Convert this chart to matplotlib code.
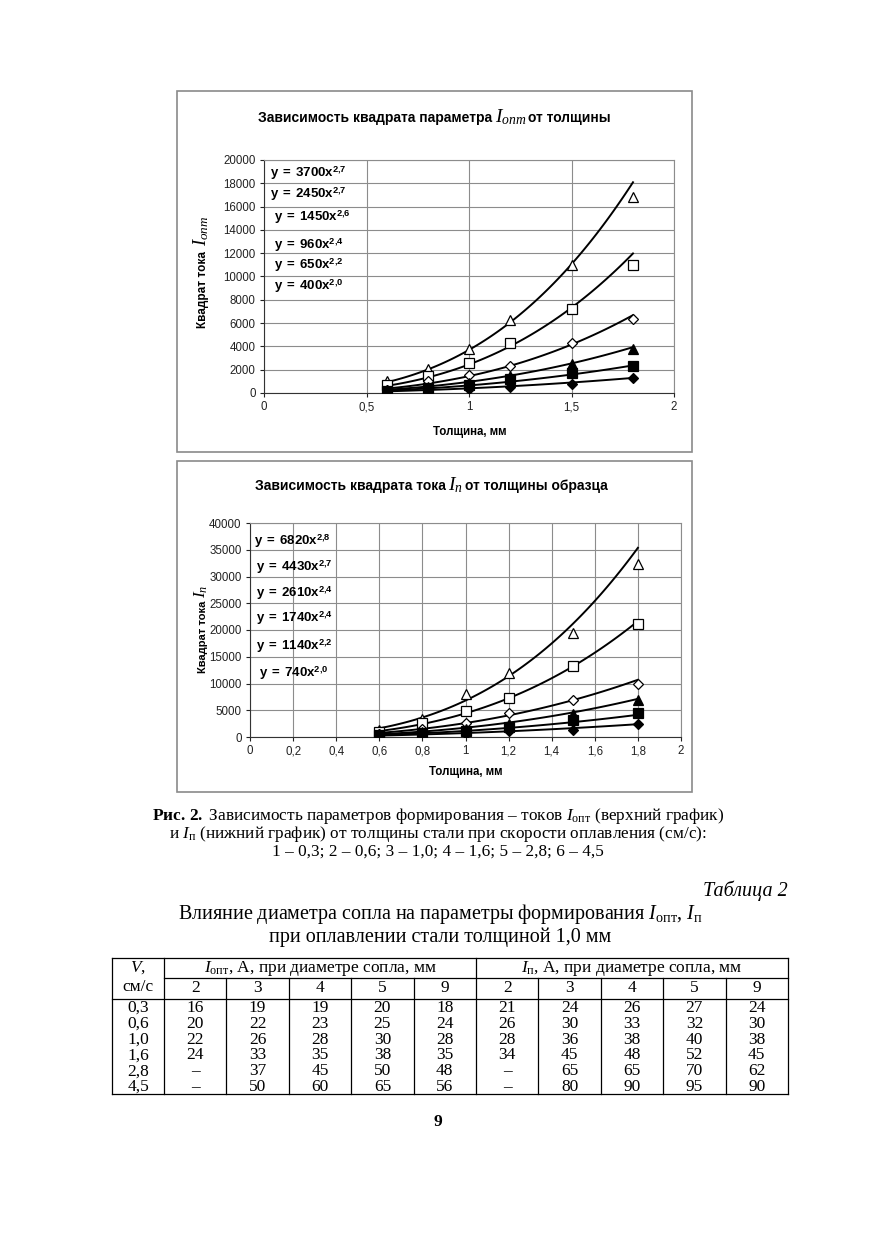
import numpy as np
import matplotlib
matplotlib.use('Agg')
import matplotlib.pyplot as plt
from matplotlib.patches import Rectangle

plt.rcParams.update({
    'font.family': ['Liberation Sans', 'DejaVu Sans'],
    'mathtext.fontset': 'custom',
    'mathtext.rm': 'Liberation Serif',
    'mathtext.it': 'Liberation Serif:italic',
    'mathtext.bf': 'Liberation Serif:bold',
    'mathtext.sf': 'Liberation Sans:bold',
})

# ---------------- data ----------------
thickness = [0.6, 0.8, 1.0, 1.2, 1.5, 1.8]

# upper chart: square of I_opt, series 6..1
opt_s6 = [1000, 2100, 3800, 6300, 11000, 16850]
opt_s5 = [700, 1500, 2550, 4250, 7200, 11000]
opt_s4 = [300, 1000, 1550, 2300, 4300, 6350]
opt_s3 = [250, 550, 850, 1500, 2500, 3800]
opt_s2 = [150, 400, 700, 1200, 1700, 2300]
opt_s1 = [100, 250, 350, 500, 800, 1300]
opt_coef = [3700, 2450, 1450, 960, 650, 400]
opt_pow = [2.7, 2.7, 2.6, 2.4, 2.2, 2.0]
opt_pow_txt = ['2,7', '2,7', '2,6', '2,4', '2,2', '2,0']

# lower chart: square of I_p, series 6..1
p_s6 = [1350, 3450, 7950, 12000, 19400, 32400]
p_s5 = [950, 2600, 4900, 7300, 13250, 21050]
p_s4 = [600, 1550, 2650, 4500, 6900, 9900]
p_s3 = [500, 950, 1550, 2400, 4250, 7000]
p_s2 = [300, 750, 1100, 1850, 3100, 4400]
p_s1 = [200, 500, 650, 1100, 1250, 2500]
p_coef = [6820, 4430, 2610, 1740, 1140, 740]
p_pow = [2.8, 2.7, 2.4, 2.4, 2.2, 2.0]
p_pow_txt = ['2,8', '2,7', '2,4', '2,4', '2,2', '2,0']

# table 2
speeds = ['0,3', '0,6', '1,0', '1,6', '2,8', '4,5']
nozzles = ['2', '3', '4', '5', '9']
tab_opt = [[16, 19, 19, 20, 18], [20, 22, 23, 25, 24], [22, 26, 28, 30, 28],
           [24, 33, 35, 38, 35], [None, 37, 45, 50, 48], [None, 50, 60, 65, 56]]
tab_p = [[21, 24, 26, 27, 24], [26, 30, 33, 32, 30], [28, 36, 38, 40, 38],
         [34, 45, 48, 52, 45], [None, 65, 65, 70, 62], [None, 80, 90, 95, 90]]

markers = [('^', 'white', 7.5), ('s', 'white', 6.5), ('D', 'white', 5.5),
           ('^', 'black', 7.5), ('s', 'black', 6.5), ('D', 'black', 5.5)]

W, H = 875, 1241
fig = plt.figure(figsize=(W / 100, H / 100), dpi=100)
fig.patch.set_facecolor('white')

pg = fig.add_axes([0, 0, 1, 1], zorder=-1)
pg.set_xlim(0, W)
pg.set_ylim(H, 0)
pg.axis('off')

# chart frames
for (x0, y0, x1, y1) in [(177, 91, 692, 452), (177, 461, 692, 792)]:
    pg.add_patch(Rectangle((x0, y0), x1 - x0, y1 - y0, fill=False,
                           edgecolor='#8a8a8a', lw=1.2))


def make_chart(rect_px, series, coefs, pows, pow_txt, xticks, ymax, ystep, eq_pos):
    l, t, r, b = rect_px
    ax = fig.add_axes([l / W, 1 - b / H, (r - l) / W, (b - t) / H])
    ax.set_xlim(0, 2)
    ax.set_ylim(0, ymax)
    ax.set_xticks(xticks)
    ax.set_xticklabels([('%g' % v).replace('.', ',') for v in xticks])
    yt = np.arange(0, ymax + 1, ystep)
    ax.set_yticks(yt)
    ax.set_yticklabels([str(int(v)) for v in yt])
    ax.grid(True, color='#8c8c8c', lw=0.8)
    ax.set_axisbelow(True)
    for s in ['top', 'right']:
        ax.spines[s].set_color('#8c8c8c')
    for s in ['left', 'bottom']:
        ax.spines[s].set_color('#333333')
    ax.tick_params(labelsize=8.3, length=3, width=0.8, pad=3, colors='#222222')
    xx = np.linspace(thickness[0], thickness[-1], 100)
    for ys, a, p, (m, fc, ms) in zip(series, coefs, pows, markers):
        ax.plot(xx, a * xx ** p, color='black', lw=1.4, zorder=3)
        ax.plot(thickness, ys, ls='none', marker=m, mfc=fc, mec='black',
                mew=0.9, ms=ms, zorder=4)
    for (ex, ey), a, pt in zip(eq_pos, coefs, pow_txt):
        ax.text(ex, ey, r'$\mathsf{y\ =\ %dx}^{\mathsf{%s}}$' % (a, pt.replace(',', '{,}')),
                fontsize=9.5, va='center', ha='left', zorder=5)
    return ax


ax1 = make_chart((264, 160, 674, 393),
                 [opt_s6, opt_s5, opt_s4, opt_s3, opt_s2, opt_s1],
                 opt_coef, opt_pow, opt_pow_txt,
                 [0, 0.5, 1, 1.5, 2], 20000, 2000,
                 [(0.03, 18900), (0.03, 17100), (0.05, 15050), (0.05, 12700),
                  (0.05, 11000), (0.05, 9200)])
ax2 = make_chart((250, 523, 681, 737),
                 [p_s6, p_s5, p_s4, p_s3, p_s2, p_s1],
                 p_coef, p_pow, p_pow_txt,
                 [0, 0.2, 0.4, 0.6, 0.8, 1.0, 1.2, 1.4, 1.6, 1.8, 2.0],
                 40000, 5000,
                 [(0.02, 36600), (0.03, 31700), (0.03, 26900), (0.03, 22200),
                  (0.03, 16900), (0.04, 11900)])

# chart titles (pieces so that the current symbol can be larger)
tb = dict(fontsize=10, fontweight='bold', va='baseline')
pg.text(492, 122, 'Зависимость квадрата параметра', ha='right', **tb)
pg.text(495, 122, r'$I_{опт}$', ha='left', fontsize=14, va='baseline')
pg.text(528, 122, 'от толщины', ha='left', **tb)
pg.text(446, 490, 'Зависимость квадрата тока', ha='right', **tb)
pg.text(448, 490, r'$I_{п}$', ha='left', fontsize=14, va='baseline')
pg.text(465, 490, 'от толщины образца', ha='left', **tb)

# axis labels
pg.text(203, 290, 'Квадрат тока', rotation=90, fontsize=8.5, fontweight='bold',
        ha='center', va='center')
pg.text(201, 231, r'$I_{опт}$', rotation=90, fontsize=13.5, ha='center', va='center')
pg.text(203, 637, 'Квадрат тока', rotation=90, fontsize=8, fontweight='bold',
        ha='center', va='center')
pg.text(201, 591, r'$I_{п}$', rotation=90, fontsize=12.5, ha='center', va='center')
pg.text(470, 432, 'Толщина, мм', fontsize=8.3, fontweight='bold', ha='center', va='center')
pg.text(466, 772, 'Толщина, мм', fontsize=8.3, fontweight='bold', ha='center', va='center')

# caption
serif = ['Liberation Serif', 'DejaVu Serif']
pg.text(438, 816, r'$\mathbf{Рис.\,2.}$ Зависимость параметров формирования – токов '
        r'$I_{\mathrm{опт}}$ (верхний график)', family=serif, fontsize=12.4,
        ha='center', va='center')
pg.text(438, 834, r'и $I_{\mathrm{п}}$ (нижний график) от толщины стали при скорости '
        r'оплавления (см/с):', family=serif, fontsize=12.4, ha='center', va='center')
pg.text(438, 852, '1 – 0,3; 2 – 0,6; 3 – 1,0; 4 – 1,6; 5 – 2,8; 6 – 4,5',
        family=serif, fontsize=12.4, ha='center', va='center')

# table title
pg.text(788, 891, 'Таблица 2', family=serif, style='italic', fontsize=14.5,
        ha='right', va='center')
pg.text(440, 914, r'Влияние диаметра сопла на параметры формирования '
        r'$I_{\mathrm{опт}}$, $I_{\mathrm{п}}$', family=serif, fontsize=14.5,
        ha='center', va='center')
pg.text(440, 937, 'при оплавлении стали толщиной 1,0 мм', family=serif,
        fontsize=14.5, ha='center', va='center')

# table grid
tx0, tv, tx1 = 112, 164, 788
ncol = 10
cw = (tx1 - tv) / ncol
y_top, y_h1, y_h2, y_bot = 958, 978, 999, 1094
row_h = (y_bot - y_h2) / len(speeds)
lk = dict(color='black', lw=0.9)
pg.plot([tx0, tx1], [y_top, y_top], **lk)
pg.plot([tv, tx1], [y_h1, y_h1], **lk)
pg.plot([tx0, tx1], [y_h2, y_h2], **lk)
pg.plot([tx0, tx1], [y_bot, y_bot], **lk)
for x in [tx0, tv, tv + 5 * cw, tx1]:
    pg.plot([x, x], [y_top, y_bot], **lk)
for k in range(1, ncol):
    if k == 5:
        continue
    x = tv + k * cw
    pg.plot([x, x], [y_h1, y_bot], **lk)

tk = dict(family=serif, fontsize=12.5, ha='center', va='center')
pg.text((tx0 + tv) / 2, 968, r'$V$,', **tk)
pg.text((tx0 + tv) / 2, 987, 'см/с', **tk)
pg.text(tv + 2.5 * cw, 968, r'$I_{\mathrm{опт}}$, А, при диаметре сопла, мм', **tk)
pg.text(tv + 7.5 * cw, 968, r'$I_{\mathrm{п}}$, А, при диаметре сопла, мм', **tk)
for g in range(2):
    for j, nz in enumerate(nozzles):
        pg.text(tv + (g * 5 + j + 0.5) * cw, (y_h1 + y_h2) / 2, nz, **tk)
for i, sp in enumerate(speeds):
    yc = y_h2 + (i + 0.5) * row_h + 1
    pg.text((tx0 + tv) / 2, yc, sp, **tk)
    for g, tab in enumerate([tab_opt, tab_p]):
        for j, v in enumerate(tab[i]):
            pg.text(tv + (g * 5 + j + 0.5) * cw, yc, '–' if v is None else str(v), **tk)

pg.text(438, 1122, '9', family=serif, fontsize=12.5, fontweight='bold',
        ha='center', va='center')

fig.savefig('out.png', dpi=100, facecolor='white')
